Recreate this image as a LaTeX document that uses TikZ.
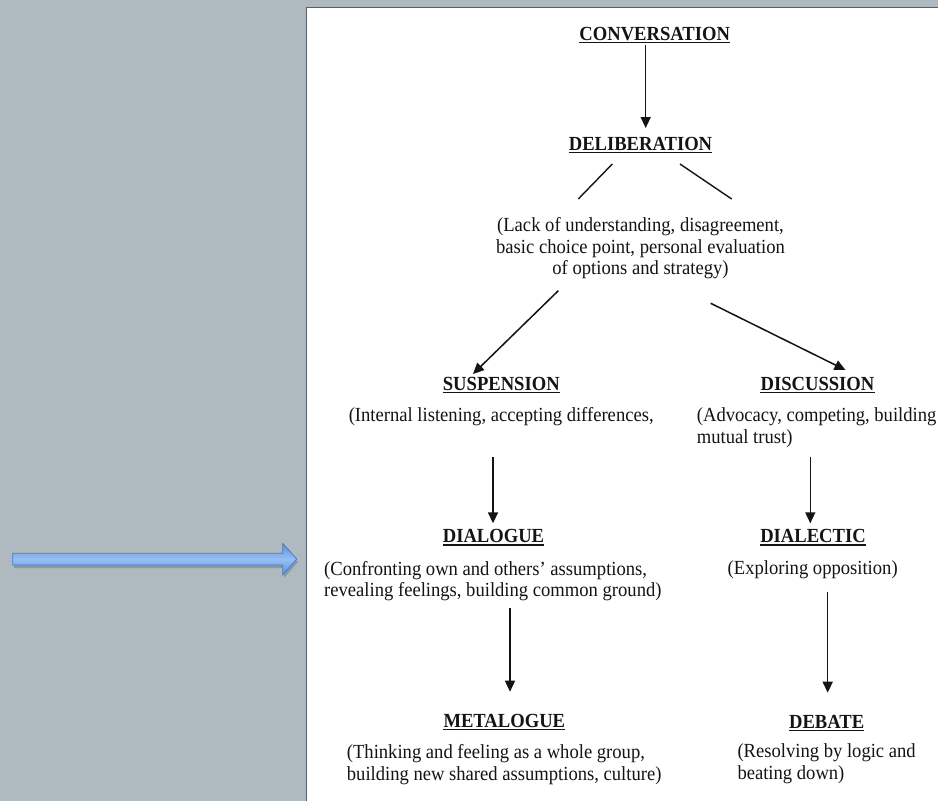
\documentclass[tikz,border=0pt]{standalone}
\usepackage{fontspec}
\setmainfont{Liberation Serif}[FakeStretch=0.93]
\usetikzlibrary{arrows.meta}
\definecolor{bggray}{HTML}{AEB9C0}
\definecolor{pageline}{HTML}{5A6066}
\definecolor{blueedge}{HTML}{4A7CC4}
\definecolor{bluelight}{HTML}{97BFF4}
\definecolor{bluedark}{HTML}{5C8EDA}
\definecolor{ink}{HTML}{141414}
\begin{document}
\begin{tikzpicture}[x=1pt,y=-1pt,
  hd/.style={font=\fontsize{20}{21.5}\selectfont\bfseries, inner sep=0pt, anchor=base, text=ink},
  bodytxt/.style={font=\fontsize{20}{21.5}\selectfont, inner sep=0pt, text=ink},
  ulstyle/.style={line width=1.3pt, draw=ink},
  conn/.style={line width=1.5pt, draw=ink, -{Triangle[length=11pt,width=10pt]}},
  plainconn/.style={line width=1.4pt, draw=ink}]
\useasboundingbox (0,0) rectangle (938,801);
\fill[bggray] (0,0) rectangle (938,801);
% page
\fill[white] (306,7) rectangle (942,805);
\draw[pageline, line width=1pt] (306,805) -- (306,7) -- (942,7);
% blue arrow (shadow + body)
\fill[black, opacity=0.18] (14,556) -- (284,556) -- (284,546) -- (298,562) -- (284,578) -- (284,568) -- (14,568) -- cycle;
\shade[top color=bluedark, bottom color=bluedark, middle color=bluelight, draw=blueedge, line width=0.8pt]
  (12.7,553.3) -- (282.7,553.3) -- (282.7,543.3) -- (296.7,559) -- (282.7,575) -- (282.7,565) -- (12.7,565) -- cycle;

% headings
\node[hd] (conv) at (654.7,40) {CONVERSATION};
\node[hd] (delib) at (640.5,150) {DELIBERATION};
\node[hd] (susp) at (501.3,390) {SUSPENSION};
\node[hd] (disc) at (817.5,390) {DISCUSSION};
\node[hd] (dialogue) at (493.5,542.7) {DIALOGUE};
\node[hd] (dialectic) at (813,542.7) {DIALECTIC};
\node[hd] (meta) at (504.3,727.3) {METALOGUE};
\node[hd] (debate) at (826.7,728.3) {DEBATE};
\foreach \n in {conv,delib,susp,disc,dialogue,dialectic,meta,debate}{
  \draw[ulstyle] ([yshift=-2.4pt]\n.base west) -- ([yshift=-2.4pt]\n.base east);
}

% body texts
\node[bodytxt, anchor=north, align=center] (lack) at (640.5,216.7)
  {\strut(Lack of understanding, disagreement,\\basic choice point, personal evaluation\\of options and strategy)};
\node[bodytxt, anchor=base] (susptxt) at (501.2,421.7) {(Internal listening, accepting differences,};
\node[bodytxt, anchor=north west, align=left] (disctxt) at (696.7,406.7)
  {\strut(Advocacy, competing, building\\mutual trust)};
\node[bodytxt, anchor=north west, align=left] (dialoguetxt) at (324,560)
  {\strut(Confronting own and others’ assumptions,\\revealing feelings, building common ground)};
\node[bodytxt, anchor=base] (dialectictxt) at (812.7,574) {(Exploring opposition)};
\node[bodytxt, anchor=north west, align=left] (metatxt) at (346.7,743.3)
  {\strut(Thinking and feeling as a whole group,\\building new shared assumptions, culture)};
\node[bodytxt, anchor=north west, align=left] (debatetxt) at (737.3,742.3)
  {\strut(Resolving by logic and\\beating down)};

% connector end points
\coordinate (c1a) at (645.7,45);   \coordinate (c1b) at (645.7,128);
\coordinate (s1a) at (612.3,164);  \coordinate (s1b) at (578.3,199);
\coordinate (s2a) at (680,164);    \coordinate (s2b) at (731.7,199);
\coordinate (l1a) at (558.3,290.7); \coordinate (l1b) at (473,374);
\coordinate (r1a) at (710.7,303.3); \coordinate (r1b) at (845.5,370);
\coordinate (l2a) at (493,456.7);  \coordinate (l2b) at (493,523.3);
\coordinate (r2a) at (810.3,456.7); \coordinate (r2b) at (810.3,523.3);
\coordinate (l3a) at (510,608.3);  \coordinate (l3b) at (510,691.7);
\coordinate (r3a) at (827.7,591.7); \coordinate (r3b) at (827.7,692.7);

\draw[conn] (c1a) -- (c1b);
\draw[plainconn] (s1a) -- (s1b);
\draw[plainconn] (s2a) -- (s2b);
\draw[conn] (l1a) -- (l1b);
\draw[conn] (r1a) -- (r1b);
\draw[conn] (l2a) -- (l2b);
\draw[conn] (r2a) -- (r2b);
\draw[conn] (l3a) -- (l3b);
\draw[conn] (r3a) -- (r3b);
\end{tikzpicture}
\end{document}
